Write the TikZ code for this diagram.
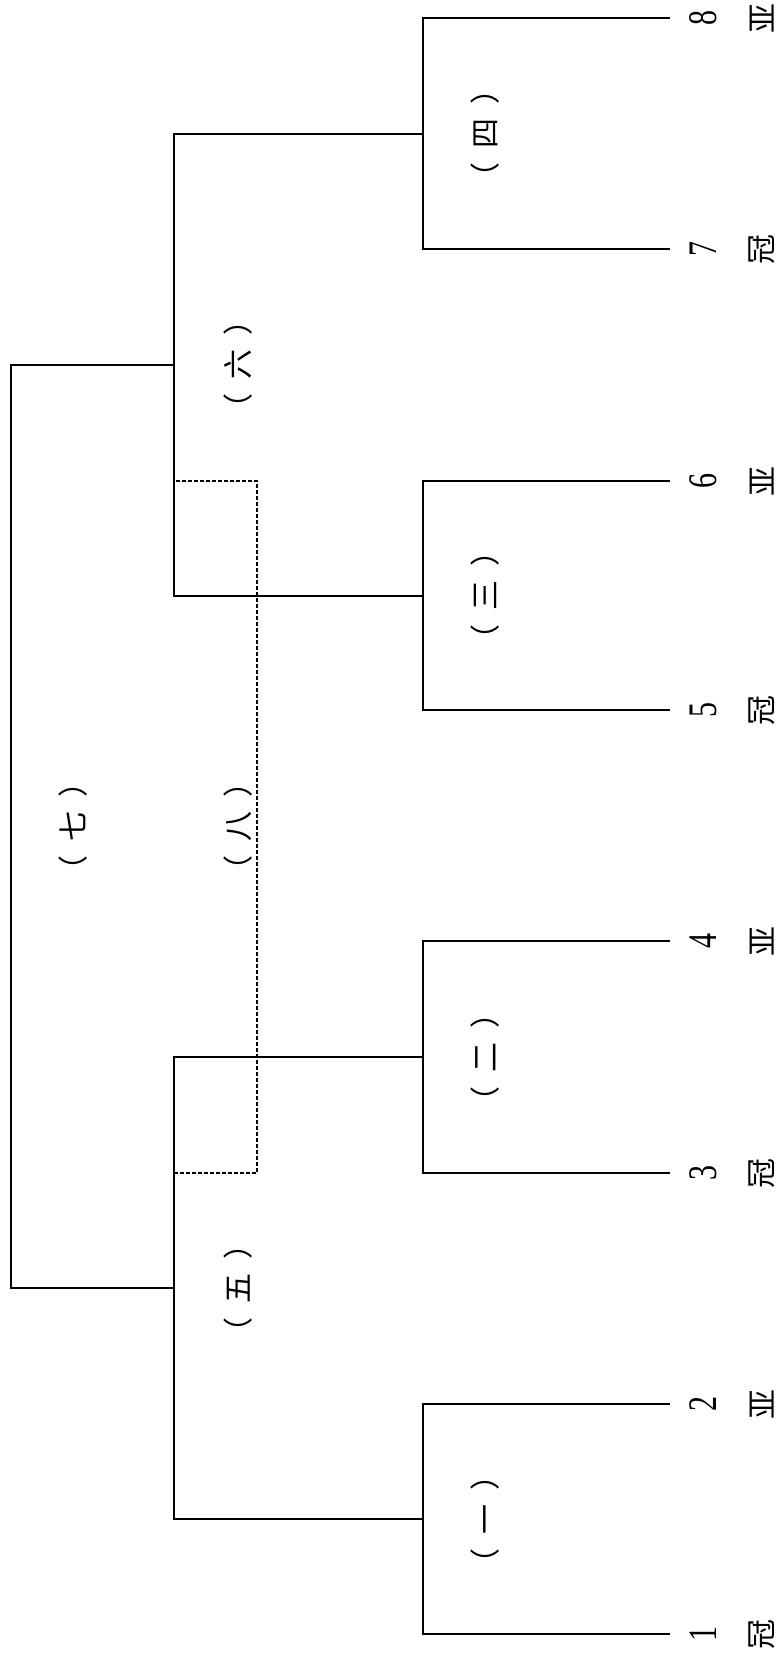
\documentclass[tikz,border=0pt]{standalone}
\usepackage{fontspec}
\setmainfont{Liberation Serif}
\newfontfamily\cjk{Noto Sans CJK SC}
\newcommand{\pl}[1]{（\kern14pt #1\kern14pt ）}
\begin{document}
\begin{tikzpicture}[x=1pt,y=-1pt,line width=2pt,line join=miter,
  lbl/.style={rotate=90,font=\cjk\fontsize{30}{30}\selectfont,inner sep=0pt},
  num/.style={rotate=90,font=\fontsize{30}{30}\selectfont,inner sep=0pt},
  rk/.style={rotate=90,font=\cjk\fontsize{30}{30}\selectfont,inner sep=0pt},
  dsh/.style={dash pattern=on 4pt off 2pt,line width=1.6pt}]
\useasboundingbox (0,0) rectangle (780,1657);
% leaf tips and bases
\foreach \i/\y in {1/1634,2/1404,3/1173,4/941,5/710,6/481,7/249,8/18}{
  \coordinate (T\i) at (670,\y);
  \coordinate (B\i) at (423,\y);
}
% round 1 midpoints
\coordinate (M12) at (423,1519);
\coordinate (M34) at (423,1057);
\coordinate (M56) at (423,595.5);
\coordinate (M78) at (423,133.5);
\coordinate (R12) at (174,1519);
\coordinate (R34) at (174,1057);
\coordinate (R56) at (174,595.5);
\coordinate (R78) at (174,133.5);
\coordinate (N5) at (174,1288);
\coordinate (N6) at (174,364.5);
\coordinate (F5) at (11,1288);
\coordinate (F6) at (11,364.5);
\coordinate (D3) at (174,1173);
\coordinate (D6) at (174,481);
\coordinate (E3) at (257,1173);
\coordinate (E6) at (257,481);
% brackets
\draw (T1) -- (B1) -- (B2) -- (T2);
\draw (T3) -- (B3) -- (B4) -- (T4);
\draw (T5) -- (B5) -- (B6) -- (T6);
\draw (T7) -- (B7) -- (B8) -- (T8);
\draw (M12) -- (R12) -- (R34) -- (M34);
\draw (M56) -- (R56) -- (R78) -- (M78);
\draw (N5) -- (F5) -- (F6) -- (N6);
\draw[dsh] (D3) -- (E3) -- (E6) -- (D6);
% leaf labels
\foreach \i/\y/\c in {1/1634/冠,2/1404/亚,3/1173/冠,4/941/亚,5/710/冠,6/481/亚,7/249/冠,8/18/亚}{
  \node[num] (n\i) at (703,\y) {\scalebox{1}[1.35]{\i}};
  \node[rk] (c\i) at (762,\y) {\c};
}
% match labels
\node[lbl] (g1) at (485,1519) {\pl{一}};
\node[lbl] (g2) at (485,1057) {\pl{二}};
\node[lbl] (g3) at (485,595.5) {\pl{三}};
\node[lbl] (g4) at (485,133.5) {\pl{四}};
\node[lbl] (g5) at (238,1288) {\pl{五}};
\node[lbl] (g6) at (238,364.5) {\pl{六}};
\node[lbl] (g7) at (73,826) {\pl{七}};
\node[lbl] (g8) at (238,826) {\pl{八}};
\end{tikzpicture}
\end{document}
